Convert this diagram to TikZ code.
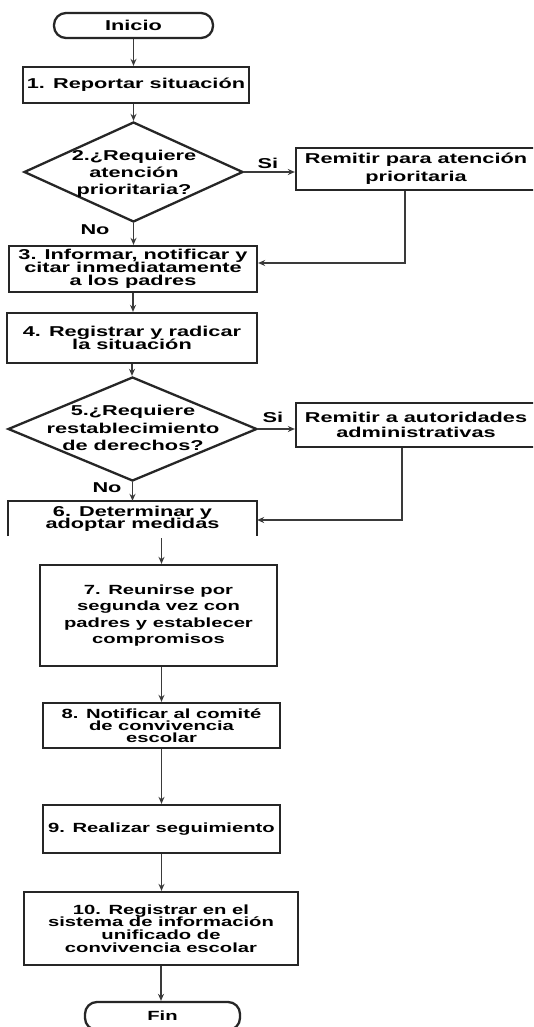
\documentclass[tikz,border=0pt]{standalone}
\usepackage{fontspec}
\setmainfont{Liberation Sans}[FakeStretch=1.52]
\usetikzlibrary{shapes.geometric,arrows.meta,calc}
\definecolor{boxcol}{HTML}{262626}
\definecolor{linecol}{HTML}{3A3A3A}
\newcommand\fontU[1]{\fontsize{14.3}{#1}\selectfont\bfseries\lineskiplimit=-30pt\relax}
\newcommand\fontL[1]{\fontsize{13.3}{#1}\selectfont\bfseries\lineskiplimit=-30pt\relax}
\tikzset{
  box/.style={draw=boxcol, line width=2.3pt, fill=white, inner sep=0pt, align=center, text=black},
  term/.style={box, rounded corners=12pt},
  dia/.style={draw=boxcol, line width=2.3pt, fill=white, diamond, inner sep=0pt},
  dtext/.style={align=center, inner sep=0pt, text=black},
  arr/.style={draw=linecol, line width=1.4pt, -{Stealth[length=7pt,width=6pt]}},
  lbl/.style={font=\fontU{14}, text=black, inner sep=0pt},
}
\begin{document}
\begin{tikzpicture}[x=1pt,y=-1pt]
\clip (0,0) rectangle (533,1027);
\fill[white] (0,0) rectangle (533,1027);

\node[term, minimum width=159pt, minimum height=25pt, font=\fontU{14}] (ini) at (133.5,25.5) {Inicio};
\node[box, minimum width=226pt, minimum height=36pt, font=\fontU{14}] (b1) at (136,85) {1. Reportar situación};
\node[dia, minimum width=219pt, minimum height=100pt] (d2) at (133.5,172) {};
\node[dtext, font=\fontU{16.7}] (t2) at (134,174) {2.¿Requiere\\atención\\prioritaria?};
\node[box, minimum width=240pt, minimum height=42pt, font=\fontU{18}] (rA) at (416,169) {Remitir para atención\\prioritaria};
\node[box, minimum width=248pt, minimum height=46pt, font=\fontU{12.8}] (b3) at (133,269) {3. Informar, notificar y\\citar inmediatamente\\a los padres};
\node[box, minimum width=250pt, minimum height=50pt, font=\fontU{12.6}] (b4) at (132,338) {4. Registrar y radicar\\la situación};
\node[dia, minimum width=249pt, minimum height=104pt] (d5) at (132.5,429) {};
\node[dtext, font=\fontU{17.5}] (t5) at (133,428) {5.¿Requiere\\restablecimiento\\de derechos?};
\node[box, minimum width=240pt, minimum height=44pt, font=\fontU{15}] (rB) at (416,425) {Remitir a autoridades\\administrativas};
\node[box, draw=none, minimum width=247pt, minimum height=33pt, font=\fontU{12.3}] (b6) at (132.5,518.5) {6. Determinar y\\adoptar medidas};
\draw[boxcol, line width=2.3pt] (b6.south west) -- (b6.north west) -- (b6.north east) -- (b6.south east);

\node[box, minimum width=237pt, minimum height=101pt, font=\fontL{16.3}] (b7) at (158.5,615.5) {7. Reunirse por\\segunda vez con\\padres y establecer\\compromisos};
\node[box, minimum width=237pt, minimum height=45pt, font=\fontL{11.9}] (b8) at (161.5,725.5) {8. Notificar al comité\\de convivencia\\escolar};
\node[box, minimum width=237pt, minimum height=48pt, font=\fontL{13}] (b9) at (161.5,829) {9. Realizar seguimiento};
\node[box, minimum width=274pt, minimum height=73pt, font=\fontL{12.6}] (b10) at (161,928.5) {10. Registrar en el\\sistema de información\\unificado de\\convivencia escolar};
\node[term, minimum width=155pt, minimum height=28pt, font=\fontL{13}] (fin) at (162.5,1016) {Fin};

\node[lbl] (si1) at (268,163) {Si};
\node[lbl] (no1) at (95,230) {No};
\node[lbl] (si2) at (273,417) {Si};
\node[lbl] (no2) at (107,488) {No};

\coordinate (c6) at ([yshift=-2pt]b6.south);
\coordinate (rAd) at ([xshift=-11pt]rA.south);
\coordinate (b3in) at ([yshift=6pt]b3.east);
\coordinate (rBd) at ([xshift=-14pt]rB.south);
\coordinate (b6in) at ([yshift=-1.5pt]b6.east);

\draw[arr] (ini.south) -- (ini.south |- b1.north);
\draw[arr] (d2.north |- b1.south) -- (d2.north);
\draw[arr] (d2.east) -- (d2.east -| rA.west);
\draw[arr] (d2.south) -- (d2.south |- b3.north);
\draw[arr] (rAd) |- (b3in);
\draw[arr] (b3.south) -- (b3.south |- b4.north);
\draw[arr] (b4.south) -- (b4.south |- d5.north);
\draw[arr] (d5.east) -- (d5.east -| rB.west);
\draw[arr] (d5.south) -- (d5.south |- b6.north);
\draw[arr] (rBd) |- (b6in);
\draw[arr] (c6 -| b8.north) -- (b7.north -| b8.north);
\draw[arr] (b8.north |- b7.south) -- (b8.north);
\draw[arr] (b8.south) -- (b9.north);
\draw[arr] (b9.south) -- (b9.south |- b10.north);
\draw[arr] (b10.south) -- (b10.south |- fin.north);
\end{tikzpicture}
\end{document}
